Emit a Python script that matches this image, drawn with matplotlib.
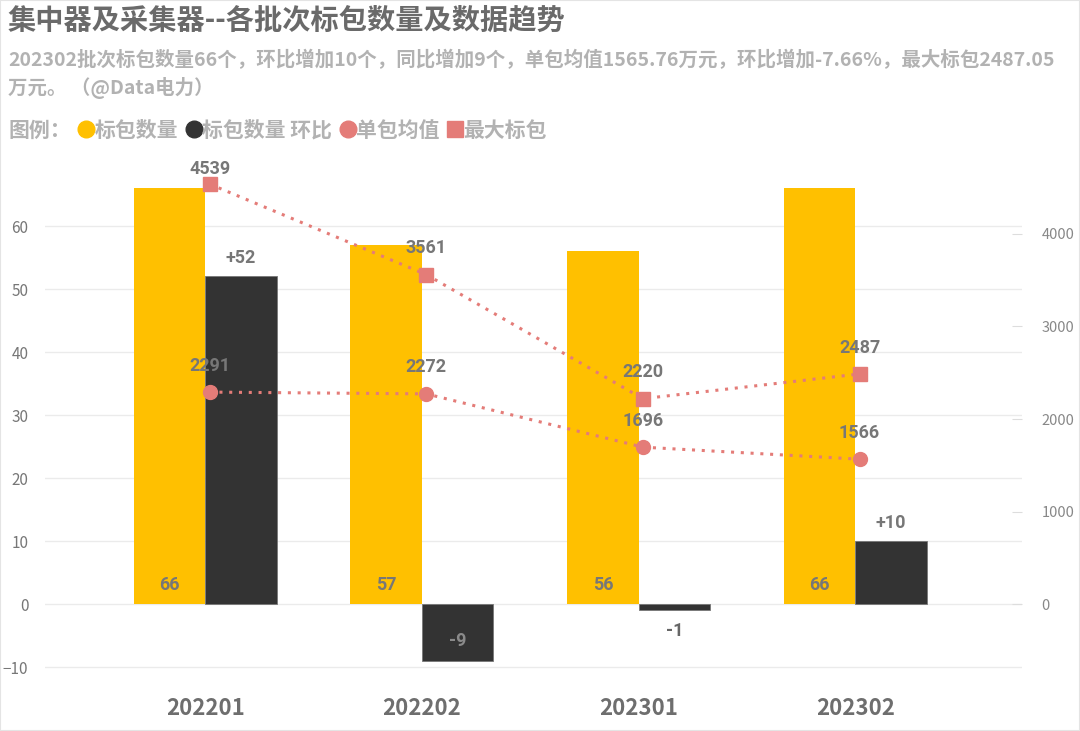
import matplotlib.pyplot as plt
import matplotlib.patches as mpatches
from matplotlib.lines import Line2D
import numpy as np

plt.rcParams['font.family'] = ['Noto Sans CJK SC', 'DejaVu Sans']

batches = ["202201", "202202", "202301", "202302"]
bid_count = [66, 57, 56, 66]
count_change = [52, -9, -1, 10]
avg_value = [2291, 2272, 1696, 1566]
max_value = [4539, 3561, 2220, 2487]

title = "集中器及采集器--各批次标包数量及数据趋势"
subtitle_lines = ["202302批次标包数量66个，环比增加10个，同比增加9个，单包均值1565.76万元，环比增加-7.66%，最大标包2487.05",
                  "万元。 （@Data电力）"]
legend_labels = ["标包数量", "标包数量 环比", "单包均值", "最大标包"]

YELLOW = "#FFC000"
DARK = "#333333"
PINK = "#E47C78"
LABEL = "#777777"
NUM_FONT = "Roboto"

fig = plt.figure(figsize=(10.8, 7.31), dpi=100)
fig.patches.append(mpatches.Rectangle((0, 0), 1, 1, transform=fig.transFigure,
                                      fill=False, edgecolor="#e4e4e4", lw=1.5))

fig.text(8 / 1080, 1 - 21 / 731, title, fontsize=20.3, fontweight="bold",
         color="#6a6a6a", va="center", ha="left")
for i, line in enumerate(subtitle_lines):
    fig.text(8 / 1080, 1 - (60 + 28 * i) / 731, line, fontsize=14, fontweight="bold",
             color="#b2b2b2", va="center", ha="left")
fig.text(8 / 1080, 1 - 130 / 731, "图例：", fontsize=15, fontweight="bold",
         color="#b2b2b2", va="center", ha="left")

handles = [
    Line2D([], [], ls="none", marker="o", ms=12, color=YELLOW),
    Line2D([], [], ls="none", marker="o", ms=12, color=DARK),
    Line2D([], [], ls="none", marker="o", ms=12, color=PINK),
    Line2D([], [], ls="none", marker="s", ms=11, color=PINK),
]
leg = fig.legend(handles, legend_labels,
                 loc="center left", bbox_to_anchor=(80 / 1080, 1 - 130 / 731),
                 ncol=4, frameon=False, handlelength=0.6, handletextpad=0.1,
                 columnspacing=0.45, borderpad=0, borderaxespad=0,
                 prop={"size": 15, "weight": "bold"}, labelcolor="#b2b2b2")

ax = fig.add_axes([45 / 1080, 1 - 686 / 731, (1022 - 45) / 1080, (686 - 163) / 731])
x = np.arange(len(batches))
w = 0.33

ax.bar(x - w / 2, bid_count, width=w, color=YELLOW, zorder=2)
ax.bar(x + w / 2, count_change, width=w, color=DARK, edgecolor="#777777",
       linewidth=0.6, zorder=2)

for xi, v in zip(x, bid_count):
    ax.annotate(f"{v}", (xi - w / 2, 0), xytext=(0, 14), textcoords="offset points",
                ha="center", va="center", fontsize=13, fontweight="bold",
                color=LABEL, family=NUM_FONT)

for xi, v in zip(x, count_change):
    if v >= 0:
        off, txt, col = 13, f"+{v}", LABEL
    elif abs(v) < 3:
        off, txt, col = -15, f"{v}", "#666666"
    else:
        off, txt, col = 14, f"{v}", "#8a8a8a"
    ax.annotate(txt, (xi + w / 2, v), xytext=(0, off), textcoords="offset points",
                ha="center", va="center", fontsize=13, fontweight="bold",
                color=col, family=NUM_FONT)

ax.set_xlim(-0.74, 3.77)
ax.set_ylim(-13, 70)
ax.set_yticks(np.arange(-10, 61, 10))
ax.set_xticks(x)
ax.set_xticklabels(batches, fontsize=16, fontweight="bold", color="#6e6e6e")
ax.tick_params(axis="x", length=0, pad=8)
ax.tick_params(axis="y", length=0, pad=12, labelsize=11, labelcolor="#777777")
ax.grid(axis="y", color="#ebebeb", lw=1, zorder=0)
ax.set_axisbelow(True)
for s in ax.spines.values():
    s.set_visible(False)

ax2 = ax.twinx()
ax2.plot(x + 0.02, max_value, ls=(0, (1, 2.2)), lw=2.2, color=PINK, marker="s",
         ms=10, zorder=3)
ax2.plot(x + 0.02, avg_value, ls=(0, (1, 2.2)), lw=2.2, color=PINK, marker="o",
         ms=10, zorder=3)
ax2.set_ylim(-13 * 68.1, 70 * 68.1)
ax2.set_yticks([0, 1000, 2000, 3000, 4000])
ax2.tick_params(axis="y", direction="in", length=7, color="#dddddd", pad=14,
                labelsize=10.5, labelcolor="#888888")
for s in ax2.spines.values():
    s.set_visible(False)

# labels sit above markers; the top one is squeezed by the plot edge
max_offsets = [11, 19, 19, 19]
for xi, v, off in zip(x + 0.02, max_value, max_offsets):
    ax2.annotate(f"{v}", (xi, v), xytext=(0, off), textcoords="offset points",
                 ha="center", va="center", fontsize=13, fontweight="bold",
                 color=LABEL, family=NUM_FONT, annotation_clip=False)
for xi, v in zip(x + 0.02, avg_value):
    ax2.annotate(f"{v}", (xi, v), xytext=(0, 19), textcoords="offset points",
                 ha="center", va="center", fontsize=13, fontweight="bold",
                 color=LABEL, family=NUM_FONT)

fig.savefig("out.png", dpi=100)
